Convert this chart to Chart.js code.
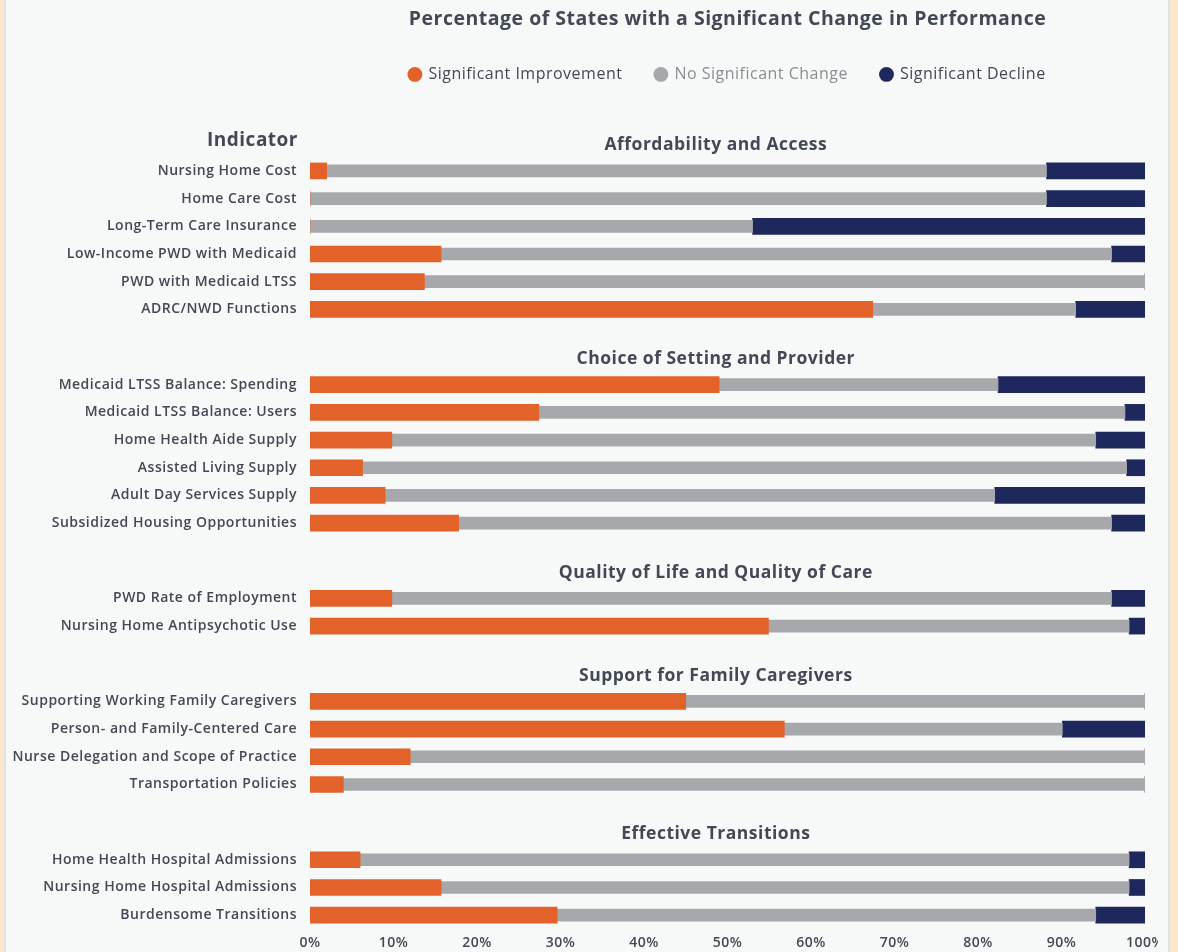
<!DOCTYPE html>
<html>
<head>
<meta charset="utf-8">
<title>Percentage of States with a Significant Change in Performance</title>
<script src="https://cdn.jsdelivr.net/npm/chart.js@4.4.1/dist/chart.umd.min.js"></script>
<style>
  body { margin: 0; background: #fde7cb; }
  #frame {
    position: absolute; left: 4px; top: 0; width: 1162px; height: 952px;
    background: #f7f9f9; border-left: 2px solid #dfe2e2; border-right: 2px solid #dfe2e2;
  }
  #chart { position: absolute; left: 0; top: 0; }
</style>
</head>
<body>
<div id="frame"></div>
<canvas id="chart" width="1158" height="952"></canvas>
<script>
// Section headings and how many indicators belong to each
const sections = [
  "Affordability and Access",
  "Choice of Setting and Provider",
  "Quality of Life and Quality of Care",
  "Support for Family Caregivers",
  "Effective Transitions",
];
const sectionSizes = [6, 6, 2, 4, 3];

const indicators = [
  "Nursing Home Cost",
  "Home Care Cost",
  "Long-Term Care Insurance",
  "Low-Income PWD with Medicaid",
  "PWD with Medicaid LTSS",
  "ADRC/NWD Functions",
  "Medicaid LTSS Balance: Spending",
  "Medicaid LTSS Balance: Users",
  "Home Health Aide Supply",
  "Assisted Living Supply",
  "Adult Day Services Supply",
  "Subsidized Housing Opportunities",
  "PWD Rate of Employment",
  "Nursing Home Antipsychotic Use",
  "Supporting Working Family Caregivers",
  "Person- and Family-Centered Care",
  "Nurse Delegation and Scope of Practice",
  "Transportation Policies",
  "Home Health Hospital Admissions",
  "Nursing Home Hospital Admissions",
  "Burdensome Transitions",
];

// Percent of states
const improvement = [2.0, 0, 0, 15.7, 13.7, 67.4, 49.0, 27.4, 9.8, 6.3, 9.0, 17.8, 9.8, 54.9, 45.0, 56.8, 12.0, 4.0, 6.0, 15.7, 29.6];
const noChange    = [86.2, 88.2, 53.0, 80.3, 86.3, 24.3, 33.4, 70.2, 84.3, 91.5, 73.0, 78.2, 86.2, 43.2, 55.0, 33.3, 88.0, 96.0, 92.1, 82.4, 64.5];
const decline     = [11.8, 11.8, 47.0, 4.0, 0, 8.3, 17.6, 2.4, 5.9, 2.2, 18.0, 4.0, 4.0, 1.9, 0, 9.9, 0, 0, 1.9, 1.9, 5.9];

const seriesNames = ["Significant Improvement", "No Significant Change", "Significant Decline"];
const seriesColors = ["#e3622a", "#a7a8ab", "#1f285c"];
const xTicks = [0, 10, 20, 30, 40, 50, 60, 70, 80, 90, 100];

const textColor = "#434855";
const FONT = "'Open Sans', sans-serif";
Chart.defaults.font.family = FONT;
Chart.defaults.color = textColor;

// room left above every section for its heading (in rows)
const SECTION_GAP = 1.72;
const rowPos = [];
const sectionStart = [];
let row = 0;
sectionSizes.forEach((n, s) => {
  sectionStart.push(row + s * SECTION_GAP);
  for (let k = 0; k < n; k++) {
    rowPos.push(row + s * SECTION_GAP);
    row++;
  }
});

const toPoints = (vals) => vals.map((v, i) => ({ x: v, y: rowPos[i] }));

// the original type is a bit spaced out
const spacing = {
  id: "spacing",
  beforeUpdate(chart) { chart.ctx.letterSpacing = "0.5px"; },
  beforeDraw(chart) { chart.ctx.letterSpacing = "0.5px"; },
};

// extra space between the legend and the bars
const legendMargin = {
  id: "legendMargin",
  beforeLayout(chart) {
    const legend = chart.legend;
    if (!legend || legend._marginPatched) return;
    const fit = legend.fit;
    legend.fit = function () {
      fit.call(this);
      this.height += 64.7;
    };
    legend._marginPatched = true;
  },
};

// section headings and the "Indicator" caption
const sectionHeadings = {
  id: "sectionHeadings",
  afterDraw(chart) {
    const { ctx, chartArea, scales } = chart;
    const y = scales.y;
    ctx.save();
    ctx.fillStyle = textColor;
    ctx.textBaseline = "middle";
    ctx.textAlign = "center";
    ctx.font = "bold 17.5px " + FONT;
    const cx = chartArea.left + chartArea.width * 0.486;
    sections.forEach((name, s) => {
      ctx.fillText(name, cx, y.getPixelForValue(sectionStart[s] - 0.93));
    });
    ctx.textAlign = "right";
    ctx.font = "bold 19px " + FONT;
    ctx.fillText("Indicator", y.right - 12, y.getPixelForValue(-0.93) - 5);
    ctx.restore();
  },
};

const datasets = [improvement, noChange, decline].map((vals, i) => ({
  label: seriesNames[i],
  data: toPoints(vals),
  backgroundColor: seriesColors[i],
  barThickness: i === 1 ? 12 : 16,
  borderWidth: 0,
}));

new Chart(document.getElementById("chart"), {
  type: "bar",
  data: { datasets },
  plugins: [spacing, legendMargin, sectionHeadings],
  options: {
    indexAxis: "y",
    responsive: false,
    animation: false,
    layout: { padding: { left: 0, right: 13, top: 0, bottom: 0 } },
    plugins: {
      tooltip: { enabled: false },
      title: {
        display: true,
        fullSize: false,
        text: "Percentage of States with a Significant Change in Performance",
        color: textColor,
        font: { size: 19.5, weight: "bold" },
        padding: { top: 8, bottom: 2 },
      },
      legend: {
        display: true,
        fullSize: false,
        labels: {
          usePointStyle: true,
          pointStyle: "circle",
          boxWidth: 11,
          boxHeight: 10.5,
          padding: 33,
          font: { size: 16, weight: "500" },
          generateLabels(chart) {
            const items = Chart.defaults.plugins.legend.labels.generateLabels(chart);
            items.forEach((it, i) => {
              it.fontColor = i === 1 ? "#8a8c91" : textColor;
              it.lineWidth = 0;
            });
            return items;
          },
        },
      },
    },
    scales: {
      x: {
        type: "linear",
        stacked: true,
        min: 0,
        max: 100,
        grid: { display: false, drawTicks: false },
        border: { display: false },
        afterFit(scale) {
          scale.height = 23;
          scale.paddingLeft = 0;
          scale.paddingRight = 0;
        },
        afterBuildTicks(scale) {
          scale.ticks = xTicks.map((v) => ({ value: v }));
        },
        ticks: {
          padding: 6,
          maxRotation: 0,
          color: textColor,
          font: { size: 14, weight: "600" },
          callback: (v) => v + "%",
        },
      },
      y: {
        type: "linear",
        stacked: true,
        reverse: true,
        offset: false,
        min: -0.5,
        max: rowPos[rowPos.length - 1] + 0.5,
        grid: { display: false, drawTicks: false },
        border: { display: false },
        afterFit(scale) {
          scale.width = 310;
          scale.paddingTop = 0;
          scale.paddingBottom = 0;
        },
        afterBuildTicks(scale) {
          scale.ticks = rowPos.map((v) => ({ value: v }));
        },
        ticks: {
          autoSkip: false,
          padding: 13,
          color: textColor,
          font: { size: 14, weight: "600" },
          callback: (v, i) => indicators[i],
        },
      },
    },
  },
});
</script>
</body>
</html>
